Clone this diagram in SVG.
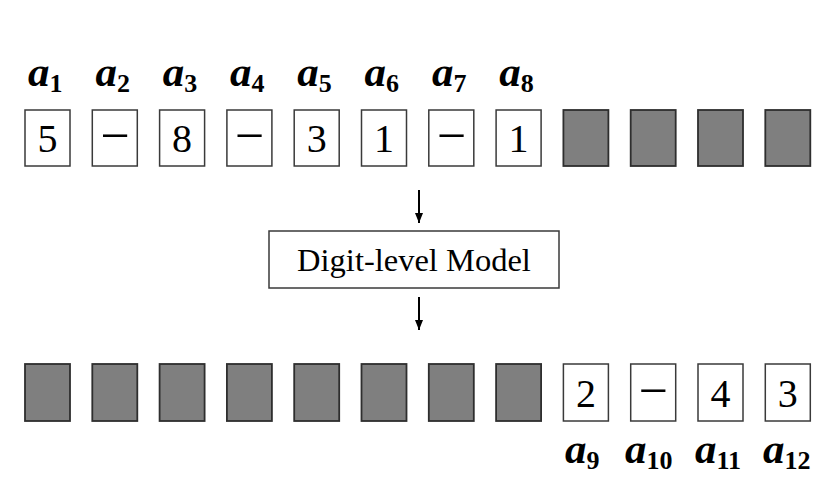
<svg xmlns="http://www.w3.org/2000/svg" width="813" height="501" viewBox="0 0 813 501">
  <style>
    .cell { fill: #ffffff; stroke: #3a3a3a; stroke-width: 1.5; }
    .mask { fill: #7f7f7f; stroke: #2e2e2e; stroke-width: 1.8; }
    .digit { font-family: "Liberation Serif", "Times New Roman", serif; font-size: 40px; fill: #000; text-anchor: middle; }
    .dash { font-size: 52px; }
    .var { font-family: "Liberation Serif", "Times New Roman", serif; font-size: 43px; font-weight: bold; font-style: italic; fill: #000; }
    .sub { font-size: 26px; font-style: normal; }
    .model { fill: #ffffff; stroke: #3a3a3a; stroke-width: 1.5; }
    .model-text { font-family: "Liberation Serif", "Times New Roman", serif; font-size: 32.5px; fill: #000; text-anchor: middle; }
    .arrow { stroke: #000; stroke-width: 2; fill: none; }
  </style>
  <defs>
    <marker id="head" viewBox="0 0 10 8" refX="10" refY="4" markerWidth="10" markerHeight="8" orient="auto" markerUnits="userSpaceOnUse">
      <path d="M0,0 L10,4 L0,8 z" fill="#000"/>
    </marker>
  </defs>
  <rect width="813" height="501" fill="#ffffff"/>

  <!-- input sequence: labels a1..a8 -->
  <g id="input-labels">
    <text class="var" x="28" y="86">a<tspan class="sub" dy="6">1</tspan></text>
    <text class="var" x="95.5" y="86">a<tspan class="sub" dy="6">2</tspan></text>
    <text class="var" x="162.8" y="86">a<tspan class="sub" dy="6">3</tspan></text>
    <text class="var" x="230" y="86">a<tspan class="sub" dy="6">4</tspan></text>
    <text class="var" x="297.3" y="86">a<tspan class="sub" dy="6">5</tspan></text>
    <text class="var" x="364.6" y="86">a<tspan class="sub" dy="6">6</tspan></text>
    <text class="var" x="431.9" y="86">a<tspan class="sub" dy="6">7</tspan></text>
    <text class="var" x="499.2" y="86">a<tspan class="sub" dy="6">8</tspan></text>
  </g>

  <!-- input sequence cells -->
  <g id="input-row">
    <g id="in-1"><rect class="cell" x="25" y="110" width="45" height="56"/><text class="digit" x="47.5" y="152">5</text></g>
    <g id="in-2"><rect class="cell" x="92.3" y="110" width="45" height="56"/><text class="digit dash" x="114.8" y="153">−</text></g>
    <g id="in-3"><rect class="cell" x="159.6" y="110" width="45" height="56"/><text class="digit" x="182.1" y="152">8</text></g>
    <g id="in-4"><rect class="cell" x="226.9" y="110" width="45" height="56"/><text class="digit dash" x="249.4" y="153">−</text></g>
    <g id="in-5"><rect class="cell" x="294.2" y="110" width="45" height="56"/><text class="digit" x="316.7" y="152">3</text></g>
    <g id="in-6"><rect class="cell" x="361.5" y="110" width="45" height="56"/><text class="digit" x="384" y="152">1</text></g>
    <g id="in-7"><rect class="cell" x="428.8" y="110" width="45" height="56"/><text class="digit dash" x="451.3" y="153">−</text></g>
    <g id="in-8"><rect class="cell" x="496.1" y="110" width="45" height="56"/><text class="digit" x="518.6" y="152">1</text></g>
    <g id="in-9"><rect class="mask" x="563.4" y="110" width="45" height="56"/></g>
    <g id="in-10"><rect class="mask" x="630.7" y="110" width="45" height="56"/></g>
    <g id="in-11"><rect class="mask" x="698" y="110" width="45" height="56"/></g>
    <g id="in-12"><rect class="mask" x="765.3" y="110" width="45" height="56"/></g>
  </g>

  <!-- model block -->
  <g id="model">
    <rect class="model" x="269" y="231" width="290" height="57"/>
    <text class="model-text" x="414" y="271">Digit-level Model</text>
  </g>

  <!-- connectors -->
  <g id="connectors">
    <line class="arrow" x1="419" y1="190" x2="419" y2="223" marker-end="url(#head)"/>
    <line class="arrow" x1="419" y1="297" x2="419" y2="330" marker-end="url(#head)"/>
  </g>

  <!-- output sequence cells -->
  <g id="output-row">
    <g id="out-1"><rect class="mask" x="25" y="364" width="45" height="57"/></g>
    <g id="out-2"><rect class="mask" x="92.3" y="364" width="45" height="57"/></g>
    <g id="out-3"><rect class="mask" x="159.6" y="364" width="45" height="57"/></g>
    <g id="out-4"><rect class="mask" x="226.9" y="364" width="45" height="57"/></g>
    <g id="out-5"><rect class="mask" x="294.2" y="364" width="45" height="57"/></g>
    <g id="out-6"><rect class="mask" x="361.5" y="364" width="45" height="57"/></g>
    <g id="out-7"><rect class="mask" x="428.8" y="364" width="45" height="57"/></g>
    <g id="out-8"><rect class="mask" x="496.1" y="364" width="45" height="57"/></g>
    <g id="out-9"><rect class="cell" x="563.4" y="364" width="45" height="57"/><text class="digit" x="585.9" y="407">2</text></g>
    <g id="out-10"><rect class="cell" x="630.7" y="364" width="45" height="57"/><text class="digit dash" x="653.2" y="408">−</text></g>
    <g id="out-11"><rect class="cell" x="698" y="364" width="45" height="57"/><text class="digit" x="720.5" y="407">4</text></g>
    <g id="out-12"><rect class="cell" x="765.3" y="364" width="45" height="57"/><text class="digit" x="787.8" y="407">3</text></g>
  </g>

  <!-- output sequence: labels a9..a12 -->
  <g id="output-labels">
    <text class="var" x="565" y="463">a<tspan class="sub" dy="6">9</tspan></text>
    <text class="var" x="625" y="463">a<tspan class="sub" dy="6">10</tspan></text>
    <text class="var" x="695" y="463">a<tspan class="sub" dy="6">11</tspan></text>
    <text class="var" x="763" y="463">a<tspan class="sub" dy="6">12</tspan></text>
  </g>
</svg>
